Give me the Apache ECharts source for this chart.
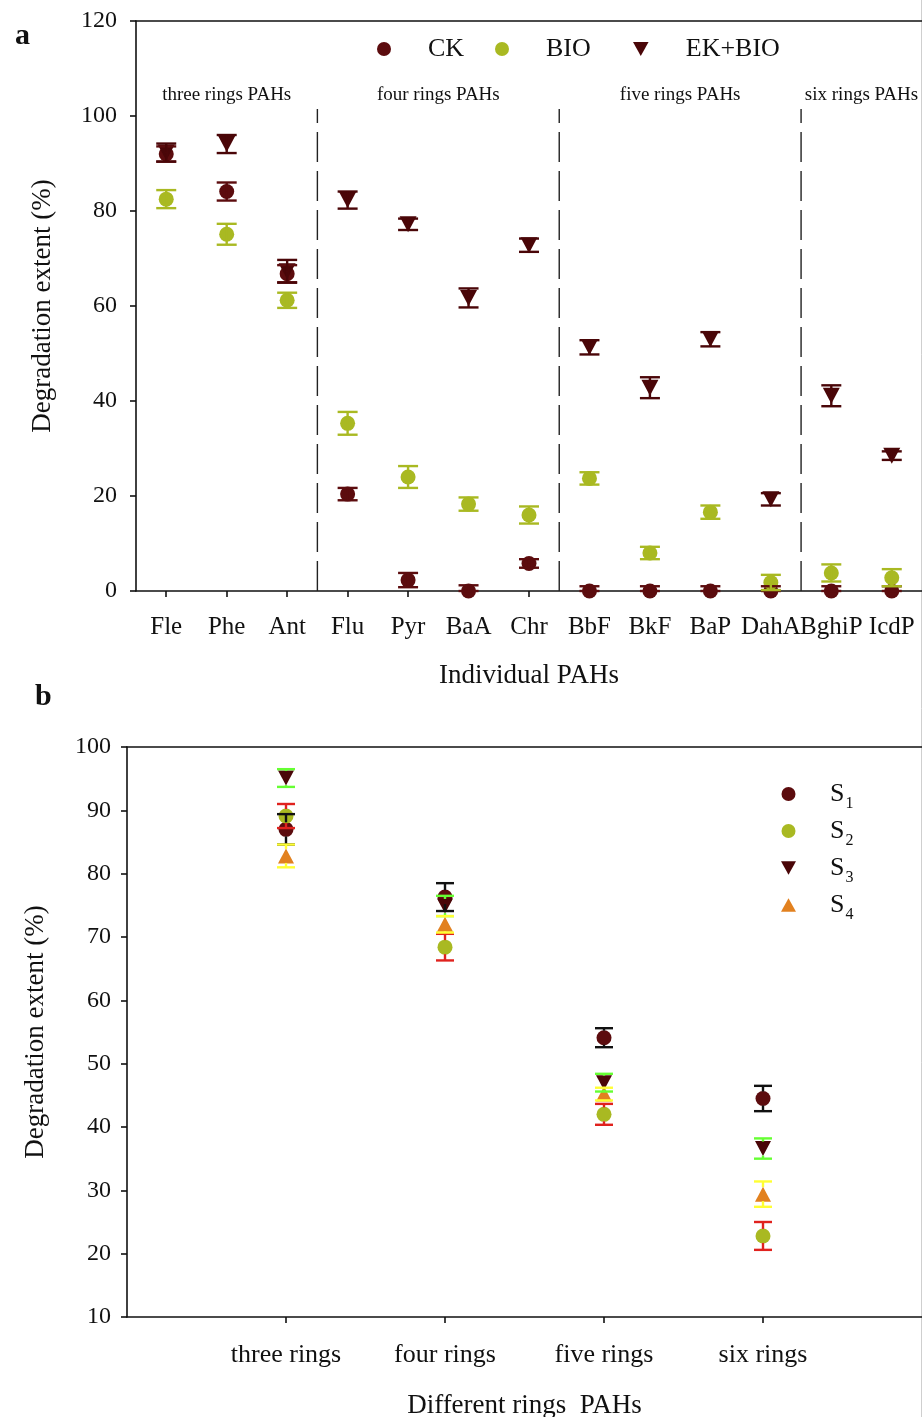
<!DOCTYPE html>
<html>
<head>
<meta charset="utf-8">
<script src="https://cdn.jsdelivr.net/npm/echarts@6/dist/echarts.min.js"></script>
<style>
  html, body { margin: 0; padding: 0; background: #fff; }
  #chart { width: 922px; height: 1417px; }
</style>
</head>
<body>
<div id="chart"></div>
<script>
// ---- Panel a: individual PAHs ----
const pahNames = ['Fle', 'Phe', 'Ant', 'Flu', 'Pyr', 'BaA', 'Chr', 'BbF', 'BkF', 'BaP', 'DahA', 'BghiP', 'IcdP'];
const ckMean  = [92.0, 84.1, 66.8, 20.4, 2.3, 0, 5.8, 0, 0, 0, 0, 0, 0];
const ckErr   = [1.6, 1.9, 1.8, 1.3, 1.5, 1.2, 0.9, 1.0, 1.0, 1.0, 1.0, 1.0, 1.0];
const bioMean = [82.5, 75.1, 61.2, 35.3, 24.0, 18.3, 16.0, 23.7, 8.0, 16.6, 1.8, 3.8, 2.8];
const bioErr  = [1.9, 2.2, 1.6, 2.4, 2.3, 1.4, 1.8, 1.3, 1.3, 1.4, 1.6, 1.8, 1.8];
const ekMean  = [92.3, 94.1, 67.3, 82.3, 77.2, 61.7, 72.8, 51.3, 42.8, 53.0, 19.3, 41.1, 28.5];
const ekErr   = [1.9, 1.9, 2.4, 1.8, 1.2, 2.0, 1.4, 1.5, 2.2, 1.5, 1.3, 2.2, 0.9];
const ringGroups = [
  { label: 'three rings PAHs', from: 0, to: 2 },
  { label: 'four rings PAHs',  from: 3, to: 6 },
  { label: 'five rings PAHs',  from: 7, to: 10 },
  { label: 'six rings PAHs',   from: 11, to: 12 }
];
const yTicksA = [0, 20, 40, 60, 80, 100, 120];

// ---- Panel b: PAHs grouped by ring number ----
const ringNames = ['three rings', 'four rings', 'five rings', 'six rings'];
const s1Mean = [87.0, 76.3, 54.1, 44.5];
const s1Err  = [2.4, 2.2, 1.5, 2.0];
const s2Mean = [89.1, 68.4, 42.0, 22.8];
const s2Err  = [1.9, 2.1, 1.65, 2.2];
const s3Mean = [95.1, 74.9, 47.0, 36.6];
const s3Err  = [1.4, 1.6, 1.4, 1.6];
const s4Mean = [82.8, 72.0, 45.2, 29.4];
const s4Err  = [1.8, 1.3, 1.0, 2.0];
const yTicksB = [10, 20, 30, 40, 50, 60, 70, 80, 90, 100];

const FONT = '"Liberation Serif", "Times New Roman", serif';
const DOWN_TRI = 'path://M0,0 L10,0 L5,9 Z';
const UP_TRI = 'path://M5,0 L10,9 L0,9 Z';
const C_CK = '#5c0c0e', C_BIO = '#a9b922', C_EK = '#4a0608', C_S4 = '#e2811f';

function rows(means, errs, offset) {
  return means.map((m, i) => [i + offset, m, Math.max(0, m - errs[i]), m + errs[i]]);
}

// vertical error bar with caps; stem skips the marker body
function errorBars(name, data, color, xi, yi, capHalf, gap) {
  return {
    type: 'custom', name, xAxisIndex: xi, yAxisIndex: yi, data, z: 4, silent: true,
    encode: { x: 0, y: [2, 3] },
    renderItem(params, api) {
      const x = api.value(0);
      const c = api.coord([x, api.value(1)]);
      const lo = api.coord([x, api.value(2)]);
      const hi = api.coord([x, api.value(3)]);
      const style = { stroke: color, lineWidth: 2.4 };
      const kids = [
        { type: 'line', shape: { x1: c[0] - capHalf, y1: lo[1], x2: c[0] + capHalf, y2: lo[1] }, style },
        { type: 'line', shape: { x1: c[0] - capHalf, y1: hi[1], x2: c[0] + capHalf, y2: hi[1] }, style }
      ];
      if (hi[1] < c[1] - gap) kids.push({ type: 'line', shape: { x1: c[0], y1: hi[1], x2: c[0], y2: c[1] - gap }, style });
      if (lo[1] > c[1] + gap) kids.push({ type: 'line', shape: { x1: c[0], y1: c[1] + gap, x2: c[0], y2: lo[1] }, style });
      return { type: 'group', children: kids };
    }
  };
}

function dots(name, means, offset, color, symbol, size, xi, yi, z) {
  return {
    type: 'scatter', name, xAxisIndex: xi, yAxisIndex: yi, symbol, symbolSize: size,
    itemStyle: { color, opacity: 1 }, z: z || 3, clip: false,
    data: means.map((m, i) => [i + offset, m])
  };
}

const axisLineStyle = { show: true, onZero: false, lineStyle: { color: '#111', width: 1.6 } };
const tickStyle = { show: true, inside: false, length: 6, lineStyle: { color: '#111', width: 1.6 } };
const tickLabel = { color: '#111', fontFamily: FONT, fontSize: 24 };
const legendText = { fontFamily: FONT, fontSize: 26, color: '#111', padding: [0, 0, 0, 32] };
const nameStyle = { fontFamily: FONT, fontSize: 27, color: '#111' };

const option = {
  backgroundColor: '#fff',
  animation: false,
  textStyle: { fontFamily: FONT },
  title: [
    { text: 'a', left: 10, top: 16, textStyle: { fontFamily: FONT, fontWeight: 'bold', fontSize: 30, color: '#111' } },
    { text: 'b', left: 30, top: 677, textStyle: { fontFamily: FONT, fontWeight: 'bold', fontSize: 30, color: '#111' } }
  ],
  legend: [
    { data: [{ name: 'CK', icon: 'circle' }], left: 372, top: 31, itemWidth: 14, itemHeight: 14, textStyle: legendText },
    { data: [{ name: 'BIO', icon: 'circle' }], left: 490, top: 31, itemWidth: 14, itemHeight: 14, textStyle: legendText },
    { data: [{ name: 'EK+BIO', icon: DOWN_TRI }], left: 628, top: 31, itemWidth: 16, itemHeight: 14, textStyle: legendText },
    { data: [{ name: 'S1', icon: 'circle' }, { name: 'S2', icon: 'circle' }, { name: 'S3', icon: DOWN_TRI }, { name: 'S4', icon: UP_TRI }],
      orient: 'vertical', left: 776, top: 774, itemWidth: 15, itemHeight: 14, itemGap: 4,
      formatter: n => '{s|S}{n|' + n.slice(1) + '}',
      textStyle: { fontFamily: FONT, color: '#111', padding: [0, 0, 0, 29],
        rich: {
          s: { fontFamily: FONT, fontSize: 26, color: '#111', lineHeight: 30 },
          n: { fontFamily: FONT, fontSize: 16, color: '#111', verticalAlign: 'top', padding: [17, 0, 0, 1], lineHeight: 16 }
        } } }
  ],
  grid: [
    { left: 136, top: 21, width: 786, height: 570, containLabel: false, outerBoundsMode: 'none' },
    { left: 127, top: 747, width: 795, height: 570, containLabel: false, outerBoundsMode: 'none' }
  ],
  xAxis: [
    { gridIndex: 0, type: 'category', data: pahNames, boundaryGap: true,
      axisLine: axisLineStyle, axisTick: Object.assign({ alignWithLabel: true }, tickStyle),
      axisLabel: Object.assign({ interval: 0, margin: 24 }, tickLabel, { fontSize: 25 }),
      splitLine: { show: false },
      name: 'Individual PAHs', nameLocation: 'middle', nameGap: 71, nameTextStyle: nameStyle },
    { gridIndex: 0, type: 'value', position: 'top', min: -0.5, max: 12.5,
      axisLine: axisLineStyle, axisTick: { show: false }, axisLabel: { show: false }, splitLine: { show: false } },
    { gridIndex: 1, type: 'category', data: [''].concat(ringNames, ['']), boundaryGap: false,
      axisLine: axisLineStyle,
      axisTick: Object.assign({ interval: (i) => i > 0 && i <= ringNames.length }, tickStyle),
      axisLabel: Object.assign({ interval: 0, margin: 25 }, tickLabel, { fontSize: 26 }),
      splitLine: { show: false },
      name: 'Different rings  PAHs', nameLocation: 'middle', nameGap: 75, nameTextStyle: nameStyle },
    { gridIndex: 1, type: 'value', position: 'top', min: 0, max: 5,
      axisLine: axisLineStyle, axisTick: { show: false }, axisLabel: { show: false }, splitLine: { show: false } }
  ],
  yAxis: [
    { gridIndex: 0, type: 'value', min: yTicksA[0], max: yTicksA[yTicksA.length - 1], interval: 20,
      axisLine: axisLineStyle, axisTick: tickStyle, axisLabel: Object.assign({ margin: 19 }, tickLabel),
      splitLine: { show: false },
      name: 'Degradation extent (%)', nameLocation: 'middle', nameGap: 80, nameTextStyle: nameStyle },
    { gridIndex: 1, type: 'value', min: yTicksB[0], max: yTicksB[yTicksB.length - 1], interval: 10,
      axisLine: axisLineStyle, axisTick: tickStyle, axisLabel: Object.assign({ margin: 16 }, tickLabel),
      splitLine: { show: false },
      name: 'Degradation extent (%)', nameLocation: 'middle', nameGap: 78, nameTextStyle: nameStyle }
  ],
  series: [
    // ring-group separators and headings for panel a
    {
      type: 'custom', name: 'ring groups', xAxisIndex: 1, yAxisIndex: 0, silent: true, z: 1,
      data: ringGroups.map(g => [g.from, g.to]),
      renderItem(params, api) {
        const from = api.value(0), to = api.value(1);
        const mid = api.coord([(from + to) / 2, 104.4]);
        const kids = [{
          type: 'text', x: mid[0], y: mid[1],
          style: { text: ringGroups[params.dataIndex].label, fontFamily: FONT, fontSize: 19, fill: '#111',
                   align: 'center', verticalAlign: 'middle' }
        }];
        if (params.dataIndex > 0) {
          const b0 = api.coord([from - 0.5, 0]);
          const b1 = api.coord([from - 0.5, 101.5]);
          kids.push({ type: 'line', shape: { x1: b0[0], y1: b0[1], x2: b1[0], y2: b1[1] },
                      style: { stroke: '#222', lineWidth: 1.4, lineDash: [30, 9] } });
        }
        return { type: 'group', children: kids };
      }
    },
    dots('CK', ckMean, 0, C_CK, 'circle', 15, 0, 0, 3),
    dots('BIO', bioMean, 0, C_BIO, 'circle', 15, 0, 0, 3),
    dots('EK+BIO', ekMean, 0, C_EK, DOWN_TRI, [17, 16], 0, 0, 3.5),
    errorBars('CK err', rows(ckMean, ckErr, 0), C_CK, 0, 0, 10, 0),
    errorBars('BIO err', rows(bioMean, bioErr, 0), C_BIO, 0, 0, 10, 0),
    errorBars('EK+BIO err', rows(ekMean, ekErr, 0), C_EK, 0, 0, 10, 0),

    dots('S1', s1Mean, 1, C_CK, 'circle', 15, 2, 1),
    dots('S2', s2Mean, 1, C_BIO, 'circle', 15, 2, 1),
    dots('S3', s3Mean, 1, C_EK, DOWN_TRI, [16, 15], 2, 1),
    dots('S4', s4Mean, 1, C_S4, UP_TRI, [16, 15], 2, 1),
    errorBars('S1 err', rows(s1Mean, s1Err, 1), '#111111', 2, 1, 9, 7),
    errorBars('S2 err', rows(s2Mean, s2Err, 1), '#e0221e', 2, 1, 9, 7),
    errorBars('S3 err', rows(s3Mean, s3Err, 1), '#66ff33', 2, 1, 9, 7),
    errorBars('S4 err', rows(s4Mean, s4Err, 1), '#ffff33', 2, 1, 9, 7)
  ],
  graphic: [
    { type: 'line', silent: true, shape: { x1: 921.5, y1: 0, x2: 921.5, y2: 1417 }, style: { stroke: '#cfcfcf', lineWidth: 1 } }
  ]
};

const chart = echarts.init(document.getElementById('chart'), null, { renderer: 'canvas' });
chart.setOption(option);
</script>
</body>
</html>
